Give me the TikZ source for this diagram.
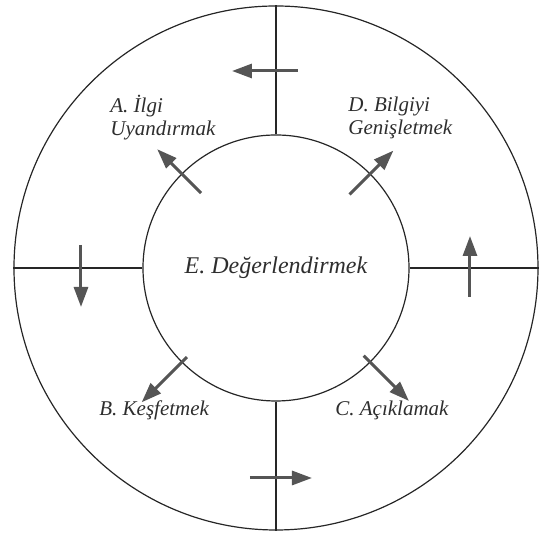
\documentclass[tikz,border=0pt]{standalone}
\usepackage{fontspec}
\setmainfont{Liberation Serif}
\usetikzlibrary{positioning,arrows.meta,calc}
\definecolor{CyInk}{HTML}{2E2E2E}
\definecolor{CyArrow}{HTML}{555555}

\begin{document}
\begin{tikzpicture}[
  x=1pt, y=1pt,
  ringline/.style={draw=black!85, line width=0.6pt},
  ringbox/.style={ringline, circle, inner sep=0pt},
  phasetext/.style={font=\itshape\fontsize{10.5}{11.5}\selectfont, text=CyInk, align=left, inner sep=0pt, anchor=west},
  cyclearrow/.style={-{Triangle[length=10pt,width=7pt]}, line width=1.5pt, CyArrow}
]
\useasboundingbox (-138,-133) rectangle (139,134);
% rings
\node[ringbox, minimum size=262pt] (outer) at (0,0) {};
\node[ringbox, minimum size=133pt, font=\itshape\fontsize{12}{14}\selectfont, text=CyInk] (inner) at (0,0) {E. Değerlendirmek};
% spokes
\draw[ringline] (inner.north) -- (outer.north);
\draw[ringline] (inner.south) -- (outer.south);
\draw[ringline] (inner.west) -- (outer.west);
\draw[ringline] (inner.east) -- (outer.east);
% arrow ends
\coordinate (topS) at (11,98.5);   \coordinate (topE) at (-22,98.5);
\coordinate (leftS) at (-97.5,11.5); \coordinate (leftE) at (-97.5,-19.5);
\coordinate (rightS) at (97,-14.5); \coordinate (rightE) at (97,16);
\coordinate (botS) at (-13,-105);  \coordinate (botE) at (18,-105);
\coordinate (aS) at (135:53);  \coordinate (aE) at (135:84);
\coordinate (dS) at (45:52);   \coordinate (dE) at (45:83);
\coordinate (bS) at (225:63);  \coordinate (bE) at (225:95);
\coordinate (cS) at (315:62);  \coordinate (cE) at (315:94);
% arrows
\draw[cyclearrow] (topS) -- (topE);
\draw[cyclearrow] (leftS) -- (leftE);
\draw[cyclearrow] (rightS) -- (rightE);
\draw[cyclearrow] (botS) -- (botE);
\draw[cyclearrow] (aS) -- (aE);
\draw[cyclearrow] (dS) -- (dE);
\draw[cyclearrow] (bS) -- (bE);
\draw[cyclearrow] (cS) -- (cE);
% labels
\node[phasetext] (lblA) at (-83,75) {A. İlgi\\Uyandırmak};
\node[phasetext] (lblD) at (36,75) {D. Bilgiyi\\Genişletmek};
\node[phasetext] (lblB) at (-88.5,-71) {B. Keşfetmek};
\node[phasetext] (lblC) at (29.5,-71) {C. Açıklamak};
\end{tikzpicture}
\end{document}
